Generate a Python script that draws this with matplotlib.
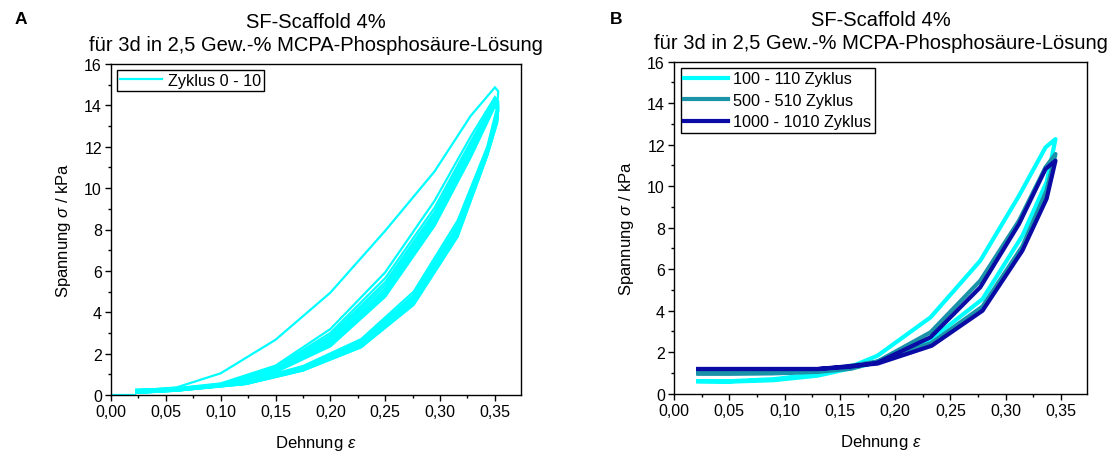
import matplotlib
matplotlib.use("Agg")
import matplotlib.pyplot as plt
from matplotlib.ticker import MultipleLocator, FuncFormatter

plt.rcParams['font.family'] = ['Liberation Sans', 'DejaVu Sans']
plt.rcParams['mathtext.fontset'] = 'custom'
plt.rcParams['mathtext.it'] = 'Liberation Sans:italic'
plt.rcParams['mathtext.rm'] = 'Liberation Sans'

# ---------------- Panel A data ----------------
title_line1 = "SF-Scaffold 4%"
title_line2 = "für 3d in 2,5 Gew.-% MCPA-Phosphosäure-Lösung"
legend_a = "Zyklus 0 - 10"

pre_strain = [0.0, 0.022]
pre_stress = [0.0, 0.0]

strain_load_a = [0.023, 0.06, 0.10, 0.15, 0.20, 0.25, 0.295, 0.328, 0.350]
strain_unload_a = [0.353, 0.352, 0.343, 0.316, 0.276, 0.228, 0.175, 0.123, 0.06, 0.023]

stress_load_a = [
    [0.20, 0.37, 1.05, 2.67, 4.95, 7.94, 10.81, 13.50, 14.87],
    [0.25, 0.33, 0.56, 1.42, 3.19, 5.93, 9.39, 12.50, 14.40],
    [0.25, 0.32, 0.53, 1.35, 3.00, 5.65, 9.05, 12.25, 14.30],
    [0.24, 0.31, 0.52, 1.30, 2.88, 5.45, 8.85, 12.10, 14.25],
    [0.24, 0.30, 0.50, 1.26, 2.78, 5.30, 8.70, 11.95, 14.20],
    [0.23, 0.30, 0.49, 1.22, 2.68, 5.15, 8.55, 11.85, 14.15],
    [0.23, 0.29, 0.48, 1.19, 2.58, 5.02, 8.45, 11.75, 14.10],
    [0.22, 0.29, 0.47, 1.16, 2.50, 4.92, 8.35, 11.65, 14.05],
    [0.22, 0.28, 0.46, 1.13, 2.42, 4.83, 8.25, 11.55, 14.00],
    [0.22, 0.28, 0.45, 1.10, 2.35, 4.75, 8.18, 11.50, 13.95],
]
stress_unload_a = [
    [14.68, 13.90, 12.00, 8.43, 5.00, 2.70, 1.40, 0.65, 0.28, 0.15],
    [14.20, 13.60, 11.90, 8.25, 4.85, 2.62, 1.35, 0.62, 0.26, 0.14],
    [14.10, 13.50, 11.80, 8.10, 4.75, 2.55, 1.30, 0.60, 0.25, 0.13],
    [14.05, 13.45, 11.75, 8.00, 4.66, 2.49, 1.27, 0.58, 0.24, 0.12],
    [14.00, 13.40, 11.70, 7.92, 4.60, 2.45, 1.25, 0.57, 0.23, 0.12],
    [13.95, 13.35, 11.67, 7.85, 4.54, 2.41, 1.23, 0.56, 0.22, 0.11],
    [13.90, 13.30, 11.64, 7.79, 4.49, 2.38, 1.21, 0.55, 0.22, 0.11],
    [13.85, 13.25, 11.61, 7.74, 4.45, 2.35, 1.20, 0.54, 0.21, 0.10],
    [13.80, 13.20, 11.59, 7.69, 4.40, 2.32, 1.19, 0.53, 0.21, 0.10],
    [13.75, 13.15, 11.57, 7.65, 4.36, 2.30, 1.18, 0.53, 0.21, 0.10],
]

# ---------------- Panel B data ----------------
legend_b = ["100 - 110 Zyklus", "500 - 510 Zyklus", "1000 - 1010 Zyklus"]
colors_b = ["#00FFFF", "#1A93A8", "#0A0AA5"]

strain_load_b = [0.022, 0.05, 0.09, 0.13, 0.16, 0.184, 0.232, 0.277, 0.312, 0.336, 0.345]
strain_unload_b = [0.345, 0.337, 0.315, 0.279, 0.233, 0.184, 0.13, 0.09, 0.05, 0.022]

stress_load_b = [
    [0.60, 0.60, 0.70, 0.95, 1.30, 1.83, 3.68, 6.41, 9.54, 11.87, 12.27],
    [0.98, 0.98, 0.98, 1.05, 1.20, 1.55, 2.96, 5.45, 8.34, 10.91, 11.55],
    [1.19, 1.19, 1.19, 1.19, 1.30, 1.50, 2.72, 5.13, 8.18, 10.83, 11.23],
]
stress_unload_b = [
    [12.27, 10.20, 7.61, 4.56, 2.64, 1.51, 0.87, 0.65, 0.58, 0.60],
    [11.55, 9.80, 7.10, 4.20, 2.45, 1.55, 1.10, 1.00, 0.98, 0.98],
    [11.23, 9.40, 6.89, 4.00, 2.31, 1.45, 1.19, 1.19, 1.19, 1.19],
]

x_label = r"Dehnung $\varepsilon$"
y_label = r"Spannung $\sigma$ / kPa"

fig = plt.figure(figsize=(11.17, 4.56), dpi=100)
axA = fig.add_axes([111/1117, 60/456, 409.7/1117, 331/456])
axB = fig.add_axes([674/1117, 61.3/456, 413/1117, 332/456])

comma = FuncFormatter(lambda v, p: f"{v:.2f}".replace('.', ','))

def style(ax):
    ax.set_xlim(0, 0.3735)
    ax.set_ylim(0, 16)
    ax.xaxis.set_major_locator(MultipleLocator(0.05))
    ax.xaxis.set_minor_locator(MultipleLocator(0.025))
    ax.yaxis.set_major_locator(MultipleLocator(2))
    ax.yaxis.set_minor_locator(MultipleLocator(1))
    ax.xaxis.set_major_formatter(comma)
    ax.tick_params(which='both', direction='out', top=False, right=False, labelsize=11.5, width=1)
    ax.tick_params(which='major', length=4.5, pad=2)
    ax.tick_params(which='minor', length=2.5)
    for s in ax.spines.values():
        s.set_linewidth(1)
    ax.set_xlabel(x_label, fontsize=12, labelpad=10)
    ax.set_ylabel(y_label, fontsize=12, labelpad=8)
    ax.set_title(title_line1 + "\n" + title_line2, fontsize=14.5, pad=10, linespacing=1.25)

# Panel A
cyan = "#00FFFF"
axA.plot(pre_strain, pre_stress, color=cyan, lw=1.6)
for i in range(len(stress_load_a)):
    lbl = legend_a if i == 0 else None
    axA.plot(strain_load_a + strain_unload_a, stress_load_a[i] + stress_unload_a[i],
             color=cyan, lw=1.6, label=lbl, solid_joinstyle='miter')
style(axA)
legA = axA.legend(loc='upper left', fontsize=11.7, frameon=True, fancybox=False,
                  edgecolor='black', framealpha=1, handlelength=2.6, handletextpad=0.35,
                  borderpad=0.2, borderaxespad=0.35)
legA.get_frame().set_linewidth(1)

# Panel B
for i in range(3):
    axB.plot(strain_load_b + strain_unload_b, stress_load_b[i] + stress_unload_b[i],
             color=colors_b[i], lw=3, label=legend_b[i])
style(axB)
legB = axB.legend(loc='upper left', fontsize=11.7, frameon=True, fancybox=False,
                  edgecolor='black', framealpha=1, handlelength=2.7, handletextpad=0.35,
                  borderpad=0.2, labelspacing=0.4, borderaxespad=0.4)
legB.get_frame().set_linewidth(1)

fig.text(15/1117, 1 - 20/456, "A", fontsize=12.5, fontweight='bold', ha='left', va='center')
fig.text(610/1117, 1 - 20/456, "B", fontsize=12.5, fontweight='bold', ha='left', va='center')

fig.savefig("out.png", dpi=100)
